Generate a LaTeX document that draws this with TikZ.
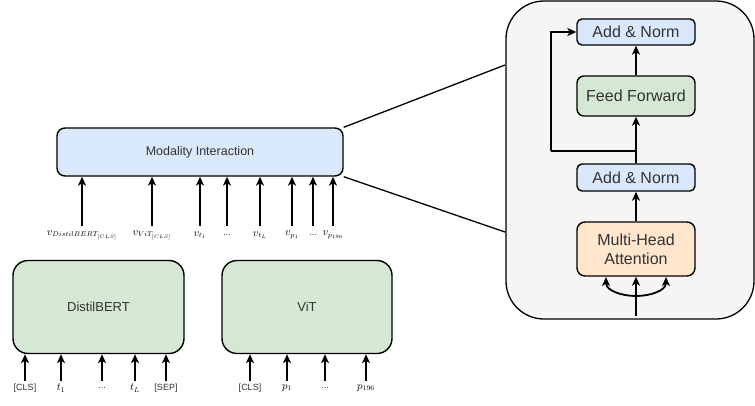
\documentclass[tikz,border=0pt]{standalone}
\usepackage{fontspec}
\setmainfont{Liberation Sans}
\usetikzlibrary{arrows.meta,calc}
\definecolor{txt}{HTML}{333333}
\definecolor{bluefill}{HTML}{DAE8FC}
\definecolor{greenfill}{HTML}{D5E8D4}
\definecolor{orangefill}{HTML}{FFE6CC}
\definecolor{panelfill}{HTML}{F5F5F5}
\begin{document}
\begin{tikzpicture}[x=1pt,y=-1pt,
  box/.style={draw=black,line width=1.4pt,text=txt,align=center,inner sep=0pt},
  arr/.style={line width=1.8pt,-{Stealth[length=9pt,width=8pt,inset=2.5pt]}},
  plain/.style={line width=1.3pt},
  lbl/.style={inner sep=0pt,text=txt,font=\fontsize{9}{10}\selectfont},
  mlbl/.style={inner sep=0pt,font=\fontsize{10.5}{11}\selectfont},
]
\useasboundingbox (0,0) rectangle (755,405);

% encoder block detail
\node[box,fill=panelfill,rounded corners=38pt,minimum width=248pt,minimum height=318pt,line width=1.3pt] (panel) at (630,160) {};
\node[box,fill=bluefill,rounded corners=5pt,minimum width=118pt,minimum height=26pt,font=\fontsize{16}{18}\selectfont] (an2) at (636,32) {Add \& Norm};
\node[box,fill=greenfill,rounded corners=7pt,minimum width=118pt,minimum height=40pt,font=\fontsize{16}{18}\selectfont] (ff) at (636,96) {Feed Forward};
\node[box,fill=bluefill,rounded corners=5pt,minimum width=118pt,minimum height=27pt,font=\fontsize{16}{18}\selectfont] (an1) at (636,177.5) {Add \& Norm};
\node[box,fill=orangefill,rounded corners=8pt,minimum width=118pt,minimum height=54pt,font=\fontsize{16}{19}\selectfont] (mha) at (636,249) {Multi-Head\\Attention};

\coordinate (split) at (636,151);
\coordinate (bend) at (551,151);
\coordinate (inp) at (636,316);
\coordinate (fork) at (636,296);
\coordinate (qin) at (606,277);
\coordinate (vin) at (666,277);

\draw[arr] (mha.north) -- (an1.south);
\draw[arr] (an1.north) -- (ff.south);
\draw[arr] (ff.north) -- (an2.south);
\draw[plain,line width=1.8pt] (split) -- (bend);
\draw[arr] (bend) |- (an2.west);
\draw[arr] (inp) -- (mha.south);
\draw[arr] (fork) to[out=180,in=-90] (qin);
\draw[arr] (fork) to[out=0,in=-90] (vin);

% fusion module
\node[box,fill=bluefill,rounded corners=8pt,minimum width=286pt,minimum height=48pt,font=\fontsize{12.5}{14}\selectfont] (mi) at (200,152) {Modality Interaction};

\coordinate (ztop) at (505,65);
\coordinate (zbot) at (505,232);
\draw[plain] (mi.north east) -- (ztop);
\draw[plain] (mi.south east) -- (zbot);

% fused token inputs
\node[mlbl] (v1) at (82,235) {$v_{DistilBERT_{[CLS]}}$};
\node[mlbl] (v2) at (152,235) {$v_{ViT_{[CLS]}}$};
\node[mlbl] (v3) at (200,235) {$v_{t_1}$};
\node[lbl]  (v4) at (227,235) {...};
\node[mlbl] (v5) at (260,235) {$v_{t_L}$};
\node[mlbl] (v6) at (292,235) {$v_{p_1}$};
\node[lbl]  (v7) at (313,235) {...};
\node[mlbl] (v8) at (333,235) {$v_{p_{196}}$};
\foreach \n in {v1,v2,v3,v4,v5,v6,v7,v8}
  \draw[arr] ($(\n.center)+(0,-9)$) -- (\n.center |- mi.south);

% unimodal encoders
\node[box,fill=greenfill,rounded corners=15pt,minimum width=171pt,minimum height=93pt,font=\fontsize{13}{15}\selectfont] (db) at (98.5,307) {DistilBERT};
\node[box,fill=greenfill,rounded corners=15pt,minimum width=170pt,minimum height=93pt,font=\fontsize{13}{15}\selectfont] (vit) at (307,307) {ViT};

\node[lbl]  (d1) at (25,388) {[CLS]};
\node[mlbl] (d2) at (61,388) {$t_1$};
\node[lbl]  (d3) at (102,388) {...};
\node[mlbl] (d4) at (135,388) {$t_L$};
\node[lbl]  (d5) at (166,388) {[SEP]};
\node[lbl]  (e1) at (250,388) {[CLS]};
\node[mlbl] (e2) at (287,388) {$p_1$};
\node[lbl]  (e3) at (325,388) {...};
\node[mlbl] (e4) at (366,388) {$p_{196}$};
\foreach \n in {d1,d2,d3,d4,d5}
  \draw[arr] ($(\n.center)+(0,-7)$) -- (\n.center |- db.south);
\foreach \n in {e1,e2,e3,e4}
  \draw[arr] ($(\n.center)+(0,-7)$) -- (\n.center |- vit.south);
\end{tikzpicture}
\end{document}
